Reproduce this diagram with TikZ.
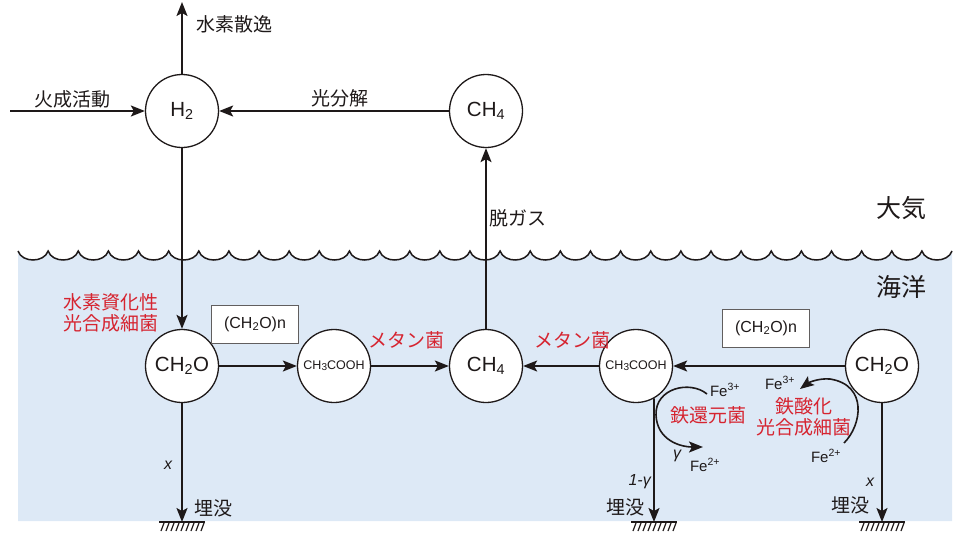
\documentclass[tikz,border=0pt]{standalone}
\usepackage{fontspec}
\setmainfont{Liberation Sans}
\newfontfamily\cjk{Noto Sans CJK JP}
\usetikzlibrary{arrows.meta}
\definecolor{sea}{RGB}{221,233,246}
\definecolor{bred}{RGB}{214,36,48}
\definecolor{ink}{RGB}{30,25,25}
\tikzset{
  mol/.style={circle,draw=ink,line width=1.3pt,fill=white,minimum size=73pt,inner sep=0pt,font=\fontsize{20.5}{20.5}\selectfont,text=ink},
  smallmol/.style={mol,font=\fontsize{12.5}{12.5}\selectfont},
  flow/.style={draw=ink,line width=1.6pt,-{Stealth[length=14pt,width=11pt,inset=3pt]}},
  lab/.style={font=\cjk\fontsize{19}{19}\selectfont,text=ink,inner sep=0pt},
  biglab/.style={font=\cjk\fontsize{25}{25}\selectfont,text=ink,inner sep=0pt},
  redlab/.style={font=\cjk\fontsize{19}{21.5}\selectfont,text=bred,inner sep=0pt,align=center},
  felab/.style={font=\fontsize{15}{15}\selectfont,text=ink,inner sep=0pt},
  varlab/.style={font=\itshape\fontsize{16}{16}\selectfont,text=ink,inner sep=0pt},
  polybox/.style={draw=ink!70,line width=0.8pt,fill=white,minimum width=87pt,minimum height=38pt,inner sep=0pt,font=\fontsize{16}{16}\selectfont,text=ink},
  groundmark/.pic={
    \draw[ink,line width=1.4pt] (-23,0) -- (23,0);
    \foreach \k in {0,...,8} \draw[ink,line width=1.2pt] (-18+5*\k,1) -- ++(-3,8);
  }
}
\newcommand{\wavepart}{\foreach \i [evaluate=\i as \xa using 18+30.13*\i] in {0,...,30} { .. controls ({\xa+4},263) and ({\xa+26},263) .. ({\xa+30.13},251) }}
\begin{document}
\begin{tikzpicture}[x=1pt,y=-1pt]
\useasboundingbox (0,0) rectangle (966,546);
% ocean
\fill[sea] (18,251) \wavepart -- (952,521) -- (18,521) -- cycle;
\draw[ink,line width=1.5pt] (18,251) \wavepart;

% nodes
\node[mol] (h2) at (182,111) {H\textsubscript{2}};
\node[mol] (ch4t) at (486,111) {CH\textsubscript{4}};
\node[mol] (ch2oL) at (182,366) {CH\textsubscript{2}O};
\node[smallmol] (acL) at (334,366) {CH\raisebox{-1pt}{\fontsize{10}{10}\selectfont 3}COOH};
\node[mol] (ch4b) at (486,366) {CH\textsubscript{4}};
\node[smallmol] (acR) at (636,366) {CH\raisebox{-1pt}{\fontsize{10}{10}\selectfont 3}COOH};
\node[mol] (ch2oR) at (882,366) {CH\textsubscript{2}O};

\node[polybox] (boxL) at (255,324) {(CH\textsubscript{2}O)n};
\node[polybox] (boxR) at (766,328) {(CH\textsubscript{2}O)n};

% free-end coordinates
\coordinate (volc) at (10,111);
\coordinate (esc) at (182,2);
\coordinate (gL) at (182,522);
\coordinate (gM) at (654,522);
\coordinate (gR) at (882,522);

% atmosphere arrows
\draw[flow] (volc) -- (h2);
\draw[flow] (h2) -- (esc);
\draw[flow] (ch4t) -- (h2);
\draw[flow] (h2) -- (ch2oL);
\draw[flow] (ch4b) -- (ch4t);

% ocean arrows
\draw[flow] (ch2oL) -- (acL);
\draw[flow] (acL) -- (ch4b);
\draw[flow] (ch2oR) -- (acR);
\draw[flow] (acR) -- (ch4b);
\draw[flow] (ch2oL) -- (gL);
\draw[flow] (acR.-61) -- (gM);
\draw[flow] (ch2oR) -- (gR);

\pic at (gL) {groundmark};
\pic at (gM) {groundmark};
\pic at (gR) {groundmark};

% iron curves
\coordinate (fe3L) at (707,394);
\coordinate (fe2L) at (703,447);
\coordinate (fe2R) at (844,443);
\coordinate (fe3R) at (800,389);
\draw[flow] (fe3L) .. controls (690,380) and (655,388) .. (656,415) .. controls (657,440) and (680,447) .. (fe2L);
\draw[flow] (fe2R) .. controls (862,425) and (868,385) .. (830,379) .. controls (818,378) and (808,383) .. (fe3R);

% labels
\node[lab] (t1) at (72,99) {火成活動};
\node[lab] (t2) at (234,24) {水素散逸};
\node[lab] (t3) at (340,98) {光分解};
\node[lab] (t4) at (518,218) {脱ガス};
\node[biglab] (t5) at (901,208) {大気};
\node[biglab] (t6) at (901,287) {海洋};
\node[redlab] (r1) at (111,313) {水素資化性\\光合成細菌};
\node[redlab] (r2) at (406,340) {メタン菌};
\node[redlab] (r3) at (572,340) {メタン菌};
\node[redlab] (r4) at (708,415) {鉄還元菌};
\node[redlab] (r5) at (804,417) {鉄酸化\\光合成細菌};
\node[lab] (b1) at (213,508) {埋没};
\node[lab] (b2) at (625,507) {埋没};
\node[lab] (b3) at (850,505) {埋没};
\node[varlab] (v1) at (168,465) {x};
\node[varlab] (v2) at (870,482) {x};
\node[varlab,anchor=east] (v3) at (651,482) {1-γ};
\node[varlab] (v4) at (677,456) {γ};
\node[felab] (f1) at (725,390) {Fe\textsuperscript{3+}};
\node[felab] (f2) at (705,465) {Fe\textsuperscript{2+}};
\node[felab] (f3) at (780,383) {Fe\textsuperscript{3+}};
\node[felab] (f4) at (826,456) {Fe\textsuperscript{2+}};
\end{tikzpicture}
\end{document}
